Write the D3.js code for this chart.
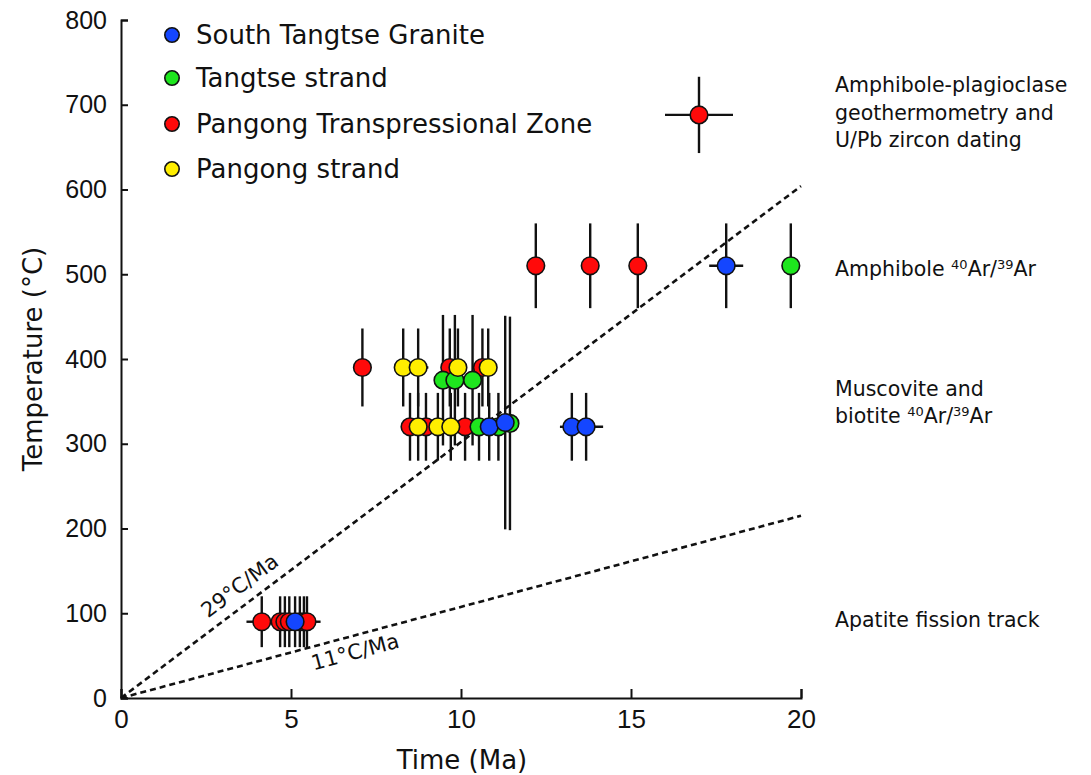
<!DOCTYPE html>
<html>
<head>
<meta charset="utf-8">
<script src="https://cdn.jsdelivr.net/npm/d3@7"></script>
<style>
  html, body { margin: 0; padding: 0; background: #fff; }
  svg { display: block; }
</style>
</head>
<body>
<svg id="chart" width="1091" height="775"></svg>
<script>
// ---------- DATA ----------
// each point: [time (Ma), temperature (°C), time error (Ma), temperature error (°C)]
const seriesNames = ["South Tangtse Granite", "Tangtse strand", "Pangong Transpressional Zone", "Pangong strand"];
const seriesColors = ["#1446ff", "#1ee61e", "#ff0a0a", "#ffee00"];

const southTangtseGranite = [
  [5.12, 90, 0, 30],
  [10.83, 320, 0, 40],
  [11.30, 325, 0, 126],
  [13.26, 320, 0.35, 40],
  [13.68, 320, 0.5, 40],
  [17.80, 510, 0.5, 50]
];
const tangtseStrand = [
  [9.47, 375, 0, 77],
  [9.82, 375, 0, 77],
  [10.34, 375, 0, 77],
  [10.53, 320, 0, 40],
  [11.10, 320, 0, 40],
  [11.44, 324, 0, 126],
  [19.70, 510, 0, 50]
];
const pangongTranspressionalZone = [
  [4.14, 90, 0.45, 30],
  [4.68, 90, 0, 30],
  [4.82, 90, 0, 30],
  [4.95, 90, 0, 30],
  [5.26, 90, 0, 30],
  [5.38, 90, 0, 30],
  [5.47, 90, 0.4, 30],
  [7.10, 390, 0, 46],
  [8.50, 320, 0, 40],
  [8.97, 320, 0, 40],
  [10.12, 320, 0, 40],
  [9.67, 390, 0, 46],
  [10.63, 390, 0, 46],
  [12.20, 510, 0, 50],
  [13.80, 510, 0, 50],
  [15.20, 510, 0, 50],
  [17.00, 688, 1.0, 45]
];
const pangongStrand = [
  [8.30, 390, 0, 46],
  [8.74, 390, 0.3, 46],
  [9.91, 390, 0, 46],
  [10.80, 390, 0, 46],
  [8.74, 320, 0, 40],
  [9.32, 320, 0, 40],
  [9.70, 320, 0, 40]
];

// gradient reference lines: label, end time, end temperature (from origin)
const gradientLabels = ["29°C/Ma", "11°C/Ma"];
const gradientEnds = [[20, 604], [20, 215]];

const xTicks = [0, 5, 10, 15, 20];
const yTicks = [0, 100, 200, 300, 400, 500, 600, 700, 800];

// method annotations: lines of text (superscripts as one-item arrays), centre temperature level
const methodLines = [
  [["Amphibole-plagioclase"], ["geothermometry and"], ["U/Pb zircon dating"]],
  [["Amphibole ", ["40"], "Ar/", ["39"], "Ar"]],
  [["Muscovite and"], ["biotite ", ["40"], "Ar/", ["39"], "Ar"]],
  [["Apatite fission track"]]
];
const methodTemps = [691, 507, 349, 92];

// ---------- CHART ----------
const svg = d3.select("#chart");
const x = d3.scaleLinear().domain([0, 20]).range([121, 801]);
const y = d3.scaleLinear().domain([0, 800]).range([698, 20]);
const ink = "#111";

// dashed gradient lines
const gLines = svg.append("g");
gradientEnds.forEach((e) => {
  gLines.append("line")
    .attr("x1", x(0)).attr("y1", y(0))
    .attr("x2", x(e[0])).attr("y2", y(e[1]))
    .attr("stroke", ink).attr("stroke-width", 2.6)
    .attr("stroke-dasharray", "6,4");
});
// gradient labels
{
  const e0 = gradientEnds[0];
  const ang0 = Math.atan2(y(e0[1]) - y(0), x(e0[0]) - x(0)) * 180 / Math.PI;
  const px0 = 244, py0 = y(0) + (px0 - x(0)) * (y(e0[1]) - y(0)) / (x(e0[0]) - x(0)) - 14;
  gLines.append("text")
    .attr("transform", `translate(${px0},${py0}) rotate(${ang0})`)
    .attr("text-anchor", "middle")
    .attr("font-family", "DejaVu Sans").attr("font-size", 21).attr("fill", ink)
    .text(gradientLabels[0]);
  const e1 = gradientEnds[1];
  const ang1 = Math.atan2(y(e1[1]) - y(0), x(e1[0]) - x(0)) * 180 / Math.PI;
  const px1 = 357, py1 = y(0) + (px1 - x(0)) * (y(e1[1]) - y(0)) / (x(e1[0]) - x(0)) + 24;
  gLines.append("text")
    .attr("transform", `translate(${px1},${py1}) rotate(${ang1})`)
    .attr("text-anchor", "middle")
    .attr("font-family", "DejaVu Sans").attr("font-size", 21).attr("fill", ink)
    .text(gradientLabels[1]);
}

// axes
const xAxis = d3.axisBottom(x).tickValues(xTicks).tickSize(-9).tickPadding(12).tickFormat(d3.format("d"));
const yAxis = d3.axisLeft(y).tickValues(yTicks).tickSize(-7).tickPadding(14).tickFormat(d3.format("d"));

const gx = svg.append("g").attr("transform", `translate(0,${y(0)})`).call(xAxis);
gx.selectAll("path, line").attr("stroke", ink).attr("stroke-width", 2);
gx.selectAll("text").attr("font-family", "Liberation Sans").attr("font-size", 26).attr("fill", ink);

const gy = svg.append("g").attr("transform", `translate(${x(0)},0)`).call(yAxis);
gy.selectAll("path, line").attr("stroke", ink).attr("stroke-width", 2);
gy.selectAll("text").attr("font-family", "Liberation Sans").attr("font-size", 25).attr("fill", ink);

// axis titles
svg.append("text")
  .attr("x", 462).attr("y", 769)
  .attr("text-anchor", "middle")
  .attr("font-family", "DejaVu Sans").attr("font-size", 26).attr("fill", ink)
  .text("Time (Ma)");
svg.append("text")
  .attr("transform", `translate(42,${(y(0) + y(800)) / 2}) rotate(-90)`)
  .attr("text-anchor", "middle")
  .attr("font-family", "DejaVu Sans").attr("font-size", 26).attr("fill", ink)
  .text("Temperature (°C)");

// data
const allSeries = [pangongTranspressionalZone, tangtseStrand, pangongStrand, southTangtseGranite];
const allColors = [seriesColors[2], seriesColors[1], seriesColors[3], seriesColors[0]];

const gErr = svg.append("g");
allSeries.forEach(s => {
  s.forEach(d => {
    if (d[3] > 0) {
      gErr.append("line")
        .attr("x1", x(d[0])).attr("x2", x(d[0]))
        .attr("y1", y(d[1] - d[3])).attr("y2", y(d[1] + d[3]))
        .attr("stroke", ink).attr("stroke-width", 2.4);
    }
    if (d[2] > 0) {
      gErr.append("line")
        .attr("x1", x(d[0] - d[2])).attr("x2", x(d[0] + d[2]))
        .attr("y1", y(d[1])).attr("y2", y(d[1]))
        .attr("stroke", ink).attr("stroke-width", 2.4);
    }
  });
});
const gPts = svg.append("g");
allSeries.forEach((s, i) => {
  gPts.selectAll(null).data(s).enter().append("circle")
    .attr("cx", d => x(d[0])).attr("cy", d => y(d[1]))
    .attr("r", 8.8)
    .attr("fill", allColors[i])
    .attr("stroke", ink).attr("stroke-width", 1.6);
});

// legend
const legendY = [35, 78, 124, 169];
const gLeg = svg.append("g");
seriesNames.forEach((name, i) => {
  gLeg.append("circle")
    .attr("cx", 172).attr("cy", legendY[i]).attr("r", 7.2)
    .attr("fill", seriesColors[i]).attr("stroke", ink).attr("stroke-width", 1.6);
  gLeg.append("text")
    .attr("x", 196).attr("y", legendY[i]).attr("dy", "0.36em")
    .attr("font-family", "DejaVu Sans").attr("font-size", 26).attr("fill", ink)
    .text(name);
});

// method annotations
const gAnn = svg.append("g");
const lineH = 27.5;
methodLines.forEach((lines, i) => {
  const cy = y(methodTemps[i]);
  const top = cy - (lines.length - 1) * lineH / 2;
  lines.forEach((parts, j) => {
    const t = gAnn.append("text")
      .attr("x", 835).attr("y", top + j * lineH).attr("dy", "0.36em")
      .attr("font-family", "DejaVu Sans").attr("font-size", 20.5).attr("fill", ink);
    parts.forEach(p => {
      if (Array.isArray(p)) {
        t.append("tspan").attr("font-size", 13).attr("baseline-shift", "55%").text(p[0]);
      } else {
        t.append("tspan").text(p);
      }
    });
  });
});
</script>
</body>
</html>
